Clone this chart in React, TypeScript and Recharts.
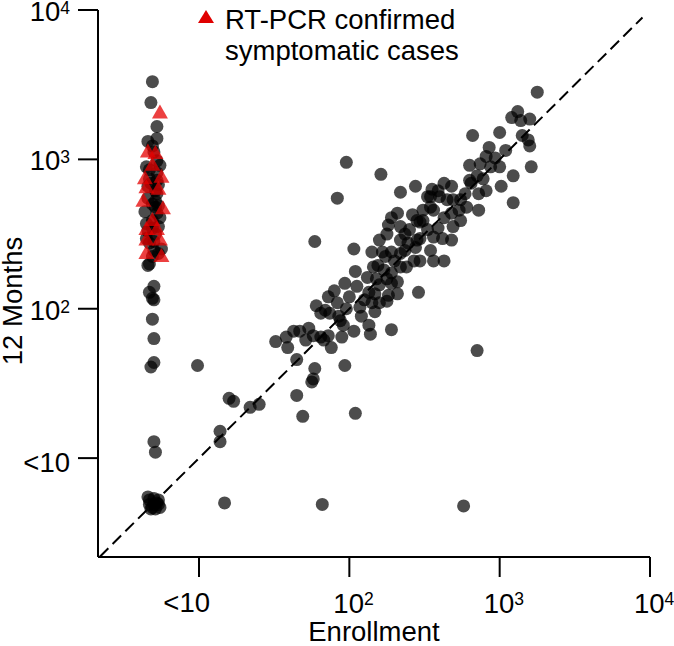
import React from 'react';
import { ScatterChart, Scatter, XAxis, YAxis, ReferenceLine, Label } from 'recharts';

// All values are log10 titers. "<10" readings are plotted at ~10^0.7 with a little jitter.
const FONT = 'Liberation Sans, Arial, Helvetica, sans-serif';

// enrollment <10, 12 months measurable
const enrollNegDots: [number, number][] = [
  [0.69, 3.52], [0.68, 3.38], [0.72, 3.22], [0.72, 3.14], [0.66, 3.12], [0.69, 3.09],
  [0.72, 2.99], [0.74, 2.96], [0.65, 2.95], [0.67, 2.93], [0.72, 2.91], [0.67, 2.87],
  [0.73, 2.83], [0.66, 2.82], [0.71, 2.79], [0.72, 2.77], [0.66, 2.74], [0.69, 2.70],
  [0.71, 2.68], [0.64, 2.65], [0.72, 2.64], [0.74, 2.61], [0.65, 2.57], [0.73, 2.55],
  [0.69, 2.54], [0.71, 2.50], [0.65, 2.47], [0.67, 2.44], [0.75, 2.40], [0.70, 2.39],
  [0.73, 2.37], [0.69, 2.35], [0.67, 2.30], [0.66, 2.29], [0.70, 3.05], [0.68, 2.84],
  [0.71, 2.72], [0.69, 2.59], [0.70, 2.45], [0.66, 2.52], [0.73, 2.69], [0.72, 2.86],
  [0.70, 2.15], [0.67, 2.11], [0.69, 2.07], [0.70, 2.06], [0.69, 1.93], [0.70, 1.80],
  [0.70, 1.64], [0.68, 1.61], [0.70, 1.11], [0.71, 1.04],
];

// <10 at both visits
const bothNegDots: [number, number][] = [
  [0.67, 0.72], [0.70, 0.73], [0.73, 0.72], [0.67, 0.69], [0.70, 0.69], [0.73, 0.69],
  [0.68, 0.66], [0.71, 0.66], [0.74, 0.67], [0.66, 0.74], [0.72, 0.70], [0.69, 0.67],
];

// measurable at enrollment
const pairedDots: [number, number][] = [
  [0.99, 1.62], [1.20, 1.40], [1.23, 1.38], [1.34, 1.34], [1.40, 1.36], [1.14, 1.18],
  [1.14, 1.11], [1.17, 0.70], [1.82, 0.69], [2.76, 0.68], [1.65, 1.66], [1.65, 1.42],
  [1.69, 1.28], [1.77, 1.60], [1.76, 1.53], [1.75, 1.51], [1.97, 1.62], [2.04, 1.30],
  [2.85, 1.72], [2.46, 2.11], [1.58, 1.81], [1.59, 1.74], [1.63, 1.85], [1.67, 1.85],
  [1.73, 1.87], [1.76, 1.82], [1.81, 1.81], [1.83, 1.79], [1.88, 1.74], [1.86, 1.82],
  [1.95, 1.81], [2.03, 1.85], [2.14, 1.83], [2.13, 1.89], [2.28, 1.86], [1.81, 1.97],
  [1.84, 1.99], [1.92, 2.04], [1.98, 2.00], [2.07, 2.01], [2.08, 1.95], [1.94, 1.92],
  [2.15, 2.04], [2.20, 2.04], [1.86, 2.08], [1.78, 2.02], [1.87, 1.97], [1.93, 1.95],
  [2.17, 2.10], [2.26, 2.09], [2.32, 2.10], [1.97, 2.17], [2.04, 2.25], [2.05, 2.15],
  [2.12, 2.21], [2.13, 2.11], [2.16, 2.28], [2.19, 2.29], [2.23, 2.26], [2.25, 2.20],
  [2.28, 2.24], [2.32, 2.18], [2.18, 2.20], [2.20, 2.16], [2.15, 2.38], [2.22, 2.38],
  [2.28, 2.38], [2.34, 2.37], [2.30, 2.32], [2.34, 2.28], [2.38, 2.28], [2.43, 2.32],
  [2.47, 2.32], [2.20, 2.46], [2.25, 2.50], [2.26, 2.56], [2.34, 2.55], [2.37, 2.50],
  [2.40, 2.53], [2.45, 2.46], [2.39, 2.44], [2.34, 2.46], [2.47, 2.58], [2.49, 2.66],
  [2.52, 2.75], [2.52, 2.53], [1.92, 2.74], [1.77, 2.45], [2.03, 2.40], [2.32, 2.64],
  [2.34, 2.78], [1.98, 2.98], [2.21, 2.90], [2.44, 2.82], [2.55, 2.80], [2.63, 2.84],
  [2.68, 2.82], [2.54, 2.75], [2.60, 2.75], [2.69, 2.73], [2.56, 2.66], [2.63, 2.61],
  [2.68, 2.64], [2.45, 2.59], [2.59, 2.54], [2.69, 2.55], [2.47, 2.47], [2.56, 2.48],
  [2.62, 2.47], [2.68, 2.46], [2.54, 2.39], [2.63, 2.32], [2.56, 2.32], [3.25, 3.45],
  [3.08, 3.28], [3.12, 3.32], [3.14, 3.26], [3.20, 3.27], [2.82, 3.16], [3.00, 3.18],
  [3.15, 3.16], [3.19, 3.13], [3.20, 3.09], [2.93, 3.08], [2.91, 3.02], [2.97, 3.01],
  [3.00, 2.95], [2.80, 2.96], [2.87, 2.97], [2.94, 2.95], [3.21, 2.95], [3.09, 2.89],
  [2.89, 2.87], [2.85, 2.89], [2.91, 2.79], [2.81, 2.84], [3.01, 2.82], [3.09, 2.71],
  [2.77, 2.77], [2.86, 2.77], [2.74, 2.73], [2.78, 2.68], [2.86, 2.66], [2.73, 2.66],
  [2.65, 2.73], [2.54, 2.68], [2.49, 2.59], [2.17, 1.98], [2.25, 2.05],
  [2.28, 2.61], [2.42, 2.63], [2.37, 2.39], [2.44, 2.41], [2.24, 2.35], [2.28, 2.17],
  [2.10, 2.06], [2.00, 2.08], [1.90, 2.12], [1.96, 1.89], [1.71, 1.79], [1.51, 1.78],
  [2.59, 2.79], [2.74, 2.59], [2.80, 2.86], [3.04, 3.06],
];

// RT-PCR confirmed symptomatic cases
const pcrCases: [number, number][] = [
  [0.74, 3.31], [0.66, 3.05], [0.71, 3.04], [0.64, 2.87], [0.75, 2.88], [0.65, 2.81],
  [0.73, 2.80], [0.63, 2.72], [0.76, 2.67], [0.69, 2.59], [0.65, 2.53], [0.72, 2.53],
  [0.65, 2.46], [0.74, 2.46], [0.65, 2.37], [0.75, 2.35], [0.69, 2.96],
];

const axisTicks = [1, 2, 3, 4];

const toRows = (pts: [number, number][]) => pts.map(([x, y]) => ({ x, y }));
const dotRows = toRows([...pairedDots, ...enrollNegDots, ...bothNegDots]);
const pcrRows = toRows(pcrCases);

const Dot = (props: any) => (
  <circle cx={props.cx} cy={props.cy} r={6.5} fill="#000" fillOpacity={0.7} />
);

const Tri = (props: any) => {
  const { cx, cy } = props;
  return (
    <polygon
      points={`${cx - 8},${cy + 5.5} ${cx + 8},${cy + 5.5} ${cx},${cy - 8.5}`}
      fill="#e60000"
      fillOpacity={0.75}
    />
  );
};

const XTick = ({ x, y, payload }: any) => {
  const v = payload.value;
  if (v === 1) {
    return (
      <text x={x + 11} y={y + 33} textAnchor="end" fontSize={27.5} fontFamily={FONT} fill="#000">
        &lt;10
      </text>
    );
  }
  return (
    <text x={x - 16} y={y + 34} textAnchor="start" fontSize={27.5} fontFamily={FONT} fill="#000">
      <tspan>10</tspan>
      <tspan dy={-8} fontSize={17.5}>{v}</tspan>
    </text>
  );
};

const YTick = ({ x, y, payload }: any) => {
  const v = payload.value;
  if (v === 1) {
    return (
      <text x={x - 6} y={y + 14} textAnchor="end" fontSize={27.5} fontFamily={FONT} fill="#000">
        &lt;10
      </text>
    );
  }
  return (
    <text x={x - 6} y={y + 11} textAnchor="end" fontSize={27.5} fontFamily={FONT} fill="#000">
      <tspan>10</tspan>
      <tspan dy={-7} fontSize={17.5}>{v}</tspan>
    </text>
  );
};

export default function App() {
  const line = { stroke: '#000', strokeWidth: 2 };
  return (
    <div style={{ position: 'absolute', left: 0, top: 0, width: 674, height: 646, background: '#fff' }}>
      <ScatterChart width={674} height={646} margin={{ top: 10, right: 24, bottom: 0, left: 0 }}>
        <XAxis
          type="number"
          dataKey="x"
          domain={[0.328, 4]}
          allowDataOverflow
          ticks={axisTicks}
          interval={0}
          tick={(p: any) => <XTick {...p} />}
          tickSize={20}
          height={89}
          axisLine={line}
          tickLine={line}
        >
          <Label
            value="Enrollment"
            position="insideBottom"
            offset={5}
            style={{ fontSize: 27.5, fill: '#000', fontFamily: FONT }}
          />
        </XAxis>
        <YAxis
          type="number"
          dataKey="y"
          domain={[0.338, 4]}
          allowDataOverflow
          ticks={axisTicks}
          interval={0}
          tick={(p: any) => <YTick {...p} />}
          tickSize={20}
          width={98}
          axisLine={line}
          tickLine={line}
        >
          <Label
            content={() => (
              <text
                x={22}
                y={301}
                transform="rotate(-90, 22, 301)"
                textAnchor="middle"
                fontSize={27.5}
                fontFamily={FONT}
                fill="#000"
              >
                12 Months
              </text>
            )}
          />
        </YAxis>
        <ReferenceLine
          segment={[{ x: 0.34, y: 0.34 }, { x: 3.95, y: 3.95 }]}
          stroke="#000"
          strokeWidth={2}
          strokeDasharray="12 6"
          ifOverflow="visible"
        />
        <Scatter data={dotRows} shape={Dot} isAnimationActive={false} />
        <Scatter data={pcrRows} shape={Tri} isAnimationActive={false} />
      </ScatterChart>
      <svg width={674} height={70} style={{ position: 'absolute', left: 0, top: 0, pointerEvents: 'none' }}>
        <polygon points="198,23 214,23 206,10" fill="#e00000" />
        <text x={225} y={29} fontSize={27.5} fontFamily={FONT} fill="#000">RT-PCR confirmed</text>
        <text x={225} y={60} fontSize={27.5} fontFamily={FONT} fill="#000">symptomatic cases</text>
      </svg>
    </div>
  );
}
